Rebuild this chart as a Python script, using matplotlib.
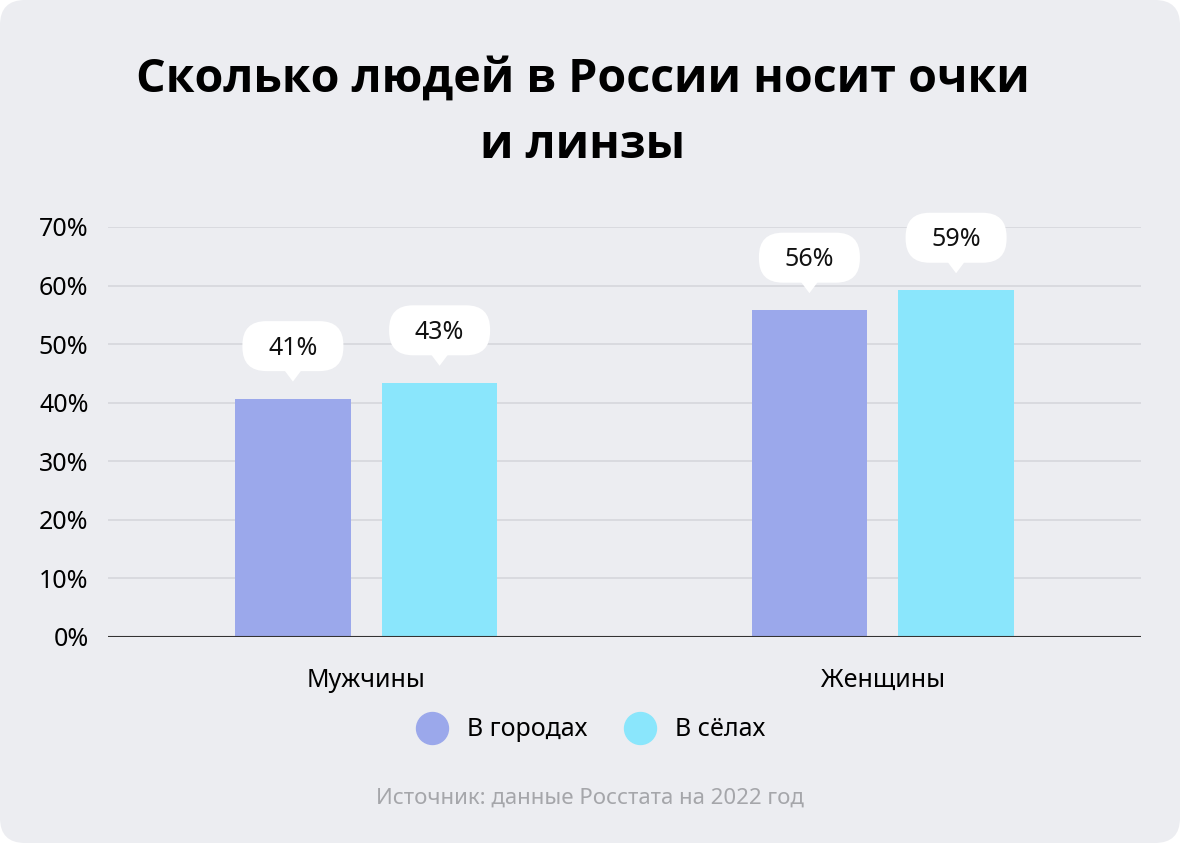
import numpy as np
import matplotlib.pyplot as plt
from matplotlib.patches import FancyBboxPatch, Polygon
from matplotlib.lines import Line2D
from matplotlib.transforms import ScaledTranslation

plt.rcParams['font.family'] = ['Noto Sans', 'DejaVu Sans']

groups = ['Мужчины', 'Женщины']
series = ['В городах', 'В сёлах']
city = [40.7, 55.8]
village = [43.4, 59.2]
city_labels = ['41%', '56%']
village_labels = ['43%', '59%']
yticks = [0, 10, 20, 30, 40, 50, 60, 70]
ytick_labels = ['0%', '10%', '20%', '30%', '40%', '50%', '60%', '70%']

c_city = '#9BA8EB'
c_village = '#8AE6FC'
bg = '#ECEDF1'

fig = plt.figure(figsize=(11.8, 8.43), dpi=100)
fig.patch.set_facecolor('white')
card = FancyBboxPatch((0, 0), 11.8, 8.43, boxstyle='round,pad=0,rounding_size=0.25',
                      transform=fig.dpi_scale_trans, facecolor=bg, edgecolor='none', zorder=-10)
fig.patches.append(card)

ax = fig.add_axes([108/1180, 1-637/843, (1141-108)/1180, (637-227)/843])
ax.set_facecolor('none')

x = np.arange(len(groups))
w = 0.224
off = 0.142
ax.bar(x - off, city, width=w, color=c_city, zorder=3)
ax.bar(x + off, village, width=w, color=c_village, zorder=3)

ax.set_xlim(-0.5, 1.5)
ax.set_ylim(0, 70)
ax.set_yticks(yticks)
ax.set_yticklabels(ytick_labels)
ax.set_xticks(x)
ax.set_xticklabels(groups)
ax.tick_params(axis='y', length=0, pad=14, labelsize=18)
ax.tick_params(axis='x', length=0, pad=22, labelsize=18)
for s in ax.spines.values():
    s.set_visible(False)
ax.grid(axis='y', color='#D6D7DC', linewidth=1.2, zorder=0)
ax.axhline(0, color='#333333', linewidth=1.5, zorder=4)

# callouts: white rounded box with a small pointer, sized in inches
bw, bh = 1.01, 0.50
for xs, vals, labs in [(x - off, city, city_labels), (x + off, village, village_labels)]:
    for xi, v, lab in zip(xs, vals, labs):
        tr = fig.dpi_scale_trans + ScaledTranslation(xi, v, ax.transData)
        box = FancyBboxPatch((-bw/2, 0.275), bw, bh, boxstyle='round,pad=0,rounding_size=0.24',
                             transform=tr, fc='white', ec='none', zorder=6, clip_on=False)
        ax.add_patch(box)
        tri = Polygon([(-0.09, 0.29), (0.09, 0.29), (0, 0.17)], closed=True,
                      transform=tr, fc='white', ec='none', zorder=6, clip_on=False)
        ax.add_patch(tri)
        ax.text(0, 0.505, lab, transform=tr, ha='center', va='center', fontsize=18,
                color='#111111', zorder=7, clip_on=False)

handles = [Line2D([], [], marker='o', linestyle='none', markersize=23, color=c)
           for c in [c_city, c_village]]
fig.legend(handles, series, loc='center', bbox_to_anchor=(586/1180, 1-730/843), ncol=2,
           frameon=False, fontsize=18, handletextpad=0.4, columnspacing=1.1)

fig.text(583/1180, 1-112/843, 'Сколько людей в России носит очки\nи линзы',
         ha='center', va='center', fontsize=33.5, fontweight='bold', linespacing=1.55,
         family=['Open Sans', 'Inter', 'DejaVu Sans'])
fig.text(590/1180, 1-798/843, 'Источник: данные Росстата на 2022 год',
         ha='center', va='center', fontsize=16, color='#A5A6AA')

fig.savefig('out.png', dpi=100, facecolor='white')
